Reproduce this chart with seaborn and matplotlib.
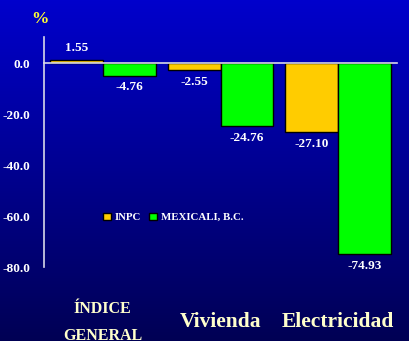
import numpy as np
import pandas as pd
import matplotlib
matplotlib.use('Agg')
import matplotlib.pyplot as plt
from matplotlib.patches import Patch
import seaborn as sns

# datos
categorias = ['ÍNDICE\nGENERAL', 'Vivienda', 'Electricidad']
series = ['INPC', 'MEXICALI, B.C.']
inpc = [1.55, -2.55, -27.10]
mexicali = [-4.76, -24.76, -74.93]
colores = ['#FFCC00', '#00FF00']
yticks = [0, -20, -40, -60, -80]

df = pd.DataFrame({
    'cat': categorias * 2,
    'serie': [series[0]] * 3 + [series[1]] * 3,
    'val': inpc + mexicali,
})

sns.set_style('white')
plt.rcParams['font.family'] = ['Liberation Serif', 'DejaVu Serif']
plt.rcParams['font.weight'] = 'bold'

fig = plt.figure(figsize=(4.09, 3.41), dpi=100)

# fondo degradado
bg = fig.add_axes([0, 0, 1, 1], zorder=-1)
grad = np.linspace(0.80, 0.33, 256).reshape(-1, 1)
img = np.zeros((256, 1, 3))
img[:, :, 2] = grad[:, 0:1]
bg.imshow(img, aspect='auto', extent=[0, 1, 0, 1])
bg.axis('off')

ax = fig.add_axes([44 / 409, 1 - 267 / 341, 353 / 409, 230 / 341])
ax.patch.set_alpha(0)

sns.barplot(data=df, x='cat', y='val', hue='serie', palette=colores,
            saturation=1, edgecolor='black', linewidth=1, width=0.9,
            ax=ax, legend=False)

for cont in ax.containers:
    ax.bar_label(cont, fmt='%.2f', padding=4, color='white',
                 fontsize=9.5, fontweight='bold')

ax.set_ylim(-80, 10.4)
ax.set_xlim(-0.5, 2.5)
ax.set_yticks(yticks)
ax.set_yticklabels([f'{v:.1f}' for v in yticks], color='white',
                   fontsize=9.5, fontweight='bold')
ax.tick_params(axis='y', direction='out', length=4, color='#D8D8E8', pad=6)

ax.spines['bottom'].set_position(('data', 0))
for s in ['top', 'right']:
    ax.spines[s].set_visible(False)
for s in ['left', 'bottom']:
    ax.spines[s].set_color('#D8D8E8')
    ax.spines[s].set_linewidth(1.2)
ax.set_xticks([-0.5, 0.5, 1.5, 2.5])
ax.set_xticklabels([])
ax.tick_params(axis='x', direction='out', length=4, color='#D8D8E8')
ax.set_xlabel('')
ax.set_ylabel('')

# etiquetas de categoria
tamanos = [11.5, 15.5, 15.5]
for i, (c, fs) in enumerate(zip(categorias, tamanos)):
    ax.text(i, -0.24, c, transform=ax.get_xaxis_transform(), ha='center',
            va='center', color='#FFFFCC', fontsize=fs, fontweight='bold',
            linespacing=1.9)

fig.text(40 / 409, 1 - 19 / 341, '%', color='#FFFF33', fontsize=12.5,
         fontweight='bold', ha='center', va='center')

handles = [Patch(facecolor=c, edgecolor='black', linewidth=1) for c in colores]
leg = ax.legend(handles, series, ncol=2, frameon=False, loc='center left',
                bbox_to_anchor=(0.14, 0.216), handlelength=0.7,
                handleheight=0.7, handletextpad=0.4, columnspacing=0.7,
                prop={'size': 7.8, 'weight': 'bold', 'family': 'Liberation Serif'})
for t in leg.get_texts():
    t.set_color('white')

fig.savefig('out.png', dpi=100)
